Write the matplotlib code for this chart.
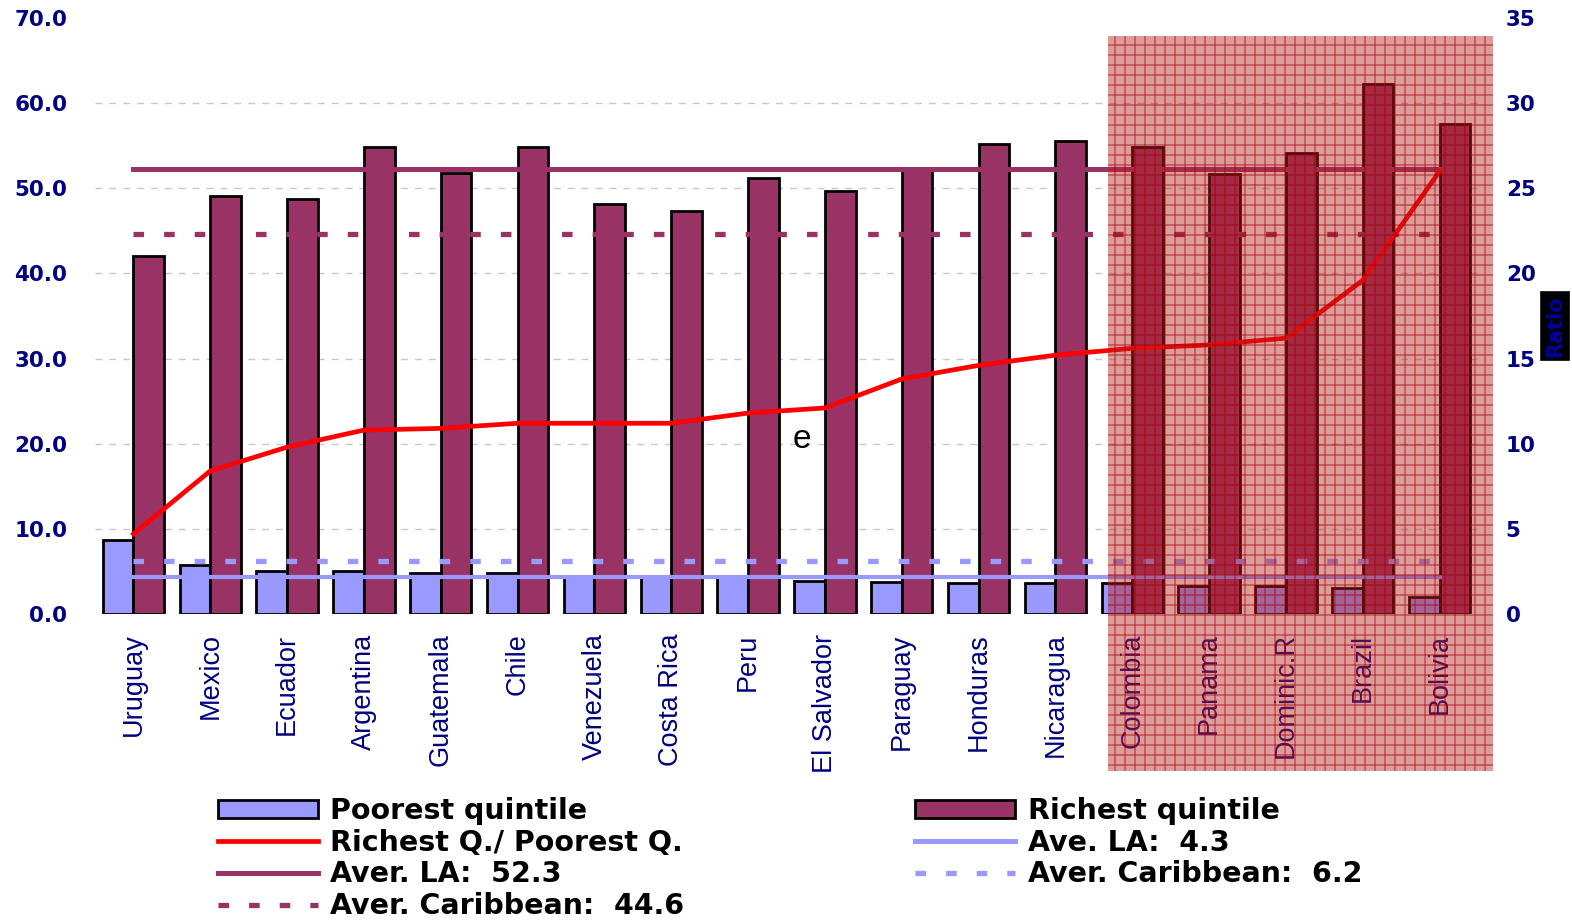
import numpy as np
import matplotlib
matplotlib.use('Agg')
import matplotlib.pyplot as plt
from matplotlib.patches import Patch, Rectangle
from matplotlib.lines import Line2D

countries = ['Uruguay', 'Mexico', 'Ecuador', 'Argentina', 'Guatemala', 'Chile',
             'Venezuela', 'Costa Rica', 'Peru', 'El Salvador', 'Paraguay',
             'Honduras', 'Nicaragua', 'Colombia', 'Panama', 'Dominic.R',
             'Brazil', 'Bolivia']
poorest = [8.7, 5.7, 5.1, 5.1, 4.8, 4.8, 4.4, 4.3, 4.3, 3.9, 3.8, 3.6, 3.6,
           3.6, 3.3, 3.3, 3.0, 2.0]
richest = [42.0, 49.1, 48.8, 54.9, 51.8, 54.9, 48.2, 47.3, 51.2, 49.7, 52.4,
           55.2, 55.5, 54.8, 51.7, 54.2, 62.3, 57.5]
ratio = [4.7, 8.4, 9.8, 10.8, 10.9, 11.2, 11.2, 11.2, 11.8, 12.1, 13.8, 14.6,
         15.2, 15.6, 15.8, 16.2, 19.6, 26.0]
AVER_LA_RICH = 52.3
AVER_CAR_RICH = 44.6
AVER_LA_POOR = 4.3
AVER_CAR_POOR = 6.2

PLUM = '#993366'
PERI = '#9999FF'
NAVY = '#000080'

DPI = 120
K = 100 / DPI   # sizes below were worked out in points at 100 dpi

plt.rcParams['hatch.linewidth'] = 0.75

fig = plt.figure(figsize=(1572 / DPI, 920 / DPI), dpi=DPI)
ax = fig.add_axes([95 / 1572, 306 / 920, 1383 / 1572, 596 / 920])
ax2 = ax.twinx()

x = np.arange(len(countries))
w = 0.4
ax.bar(x - w / 2, poorest, w, color=PERI, edgecolor='black', linewidth=2 * K, zorder=2)
ax.bar(x + w / 2, richest, w, color=PLUM, edgecolor='black', linewidth=2 * K, zorder=2)

for v in range(10, 70, 10):
    ax.axhline(v, color='#c8c8c8', linestyle=(0, (5, 5)), linewidth=1 * K, zorder=1)

dots = (0, (2, 3.8))
ax.plot([x[0], x[-1]], [AVER_LA_RICH] * 2, color=PLUM, linewidth=3.6 * K, zorder=3)
ax.plot([x[0], x[-1]], [AVER_CAR_RICH] * 2, color=PLUM, linewidth=3.8 * K,
        linestyle=dots, dash_capstyle='butt', zorder=3)
ax.plot([x[0], x[-1]], [AVER_LA_POOR] * 2, color=PERI, linewidth=3.0 * K, zorder=3)
ax.plot([x[0], x[-1]], [AVER_CAR_POOR] * 2, color=PERI, linewidth=3.8 * K,
        linestyle=dots, dash_capstyle='butt', zorder=3)

ax2.plot(x, ratio, color='#FF0000', linewidth=3.4 * K, zorder=4)

ax.set_xlim(-0.5, len(countries) - 0.5)
ax.set_ylim(0, 70)
ax2.set_ylim(0, 35)
ax.set_yticks(np.arange(0, 71, 10))
ax.set_yticklabels(['%.1f' % v for v in np.arange(0, 71, 10)])
ax2.set_yticks(np.arange(0, 36, 5))
ax.set_xticks(x)
ax.set_xticklabels(countries, rotation=90, fontsize=19.5 * K, color=NAVY,
                   family='Liberation Sans')
for lab in ax.get_yticklabels() + ax2.get_yticklabels():
    lab.set_fontsize(15.5 * K)
    lab.set_fontweight('bold')
    lab.set_color(NAVY)
ax.tick_params(axis='y', length=0, pad=20 * K)
ax2.tick_params(axis='y', length=0, pad=20 * K)
ax.tick_params(axis='x', length=0, pad=14 * K)
for a in (ax, ax2):
    for s in a.spines.values():
        s.set_visible(False)
ax.set_zorder(ax2.get_zorder() - 1)
ax.patch.set_visible(False)
ax2.set_zorder(ax.get_zorder() + 1)

# stray label and the cut-off right axis title
fig.text(802 / 1572, 1 - 440 / 920, 'e', fontsize=24 * K, color='black',
         ha='center', va='center', family='Liberation Sans')
fig.text(1555 / 1572, 1 - 326 / 920, 'Ratio', rotation=90, fontsize=15 * K,
         fontweight='bold', color='#0000a0', ha='center', va='center',
         bbox=dict(facecolor='black', edgecolor='black', pad=2.5 * K))

handles = [
    Patch(facecolor=PERI, edgecolor='black', linewidth=2 * K),
    Line2D([], [], color='#FF0000', linewidth=3.4 * K),
    Line2D([], [], color=PLUM, linewidth=3.6 * K),
    Line2D([], [], color=PLUM, linewidth=3.8 * K, linestyle=dots,
           dash_capstyle='butt'),
    Patch(facecolor=PLUM, edgecolor='black', linewidth=2 * K),
    Line2D([], [], color=PERI, linewidth=3.6 * K),
    Line2D([], [], color=PERI, linewidth=3.8 * K, linestyle=dots,
           dash_capstyle='butt'),
]
labels = ['Poorest quintile', 'Richest Q./ Poorest Q.', 'Aver. LA:  52.3',
          'Aver. Caribbean:  44.6', 'Richest quintile', 'Ave. LA:  4.3',
          'Aver. Caribbean:  6.2']
fig.legend(handles, labels, loc='upper left', bbox_to_anchor=(218 / 1572, 1 - 797 / 920),
           ncol=2, frameon=False, borderpad=0, borderaxespad=0,
           handlelength=3.5, handleheight=0.6, handletextpad=0.45,
           columnspacing=8.1, labelspacing=0.13,
           prop={'family': 'DejaVu Sans', 'weight': 'bold', 'size': 20.5 * K})

# hatched highlight over the last five countries
fig.patches.append(Rectangle((1108 / 1572, 149 / 920), 385 / 1572, 735 / 920,
                             transform=fig.transFigure, facecolor=(0.72, 0.12, 0.12, 0.45),
                             edgecolor=(0.62, 0.0, 0.0, 0.6), hatch='++', linewidth=0,
                             zorder=10))

fig.savefig('out.png', dpi=DPI)
